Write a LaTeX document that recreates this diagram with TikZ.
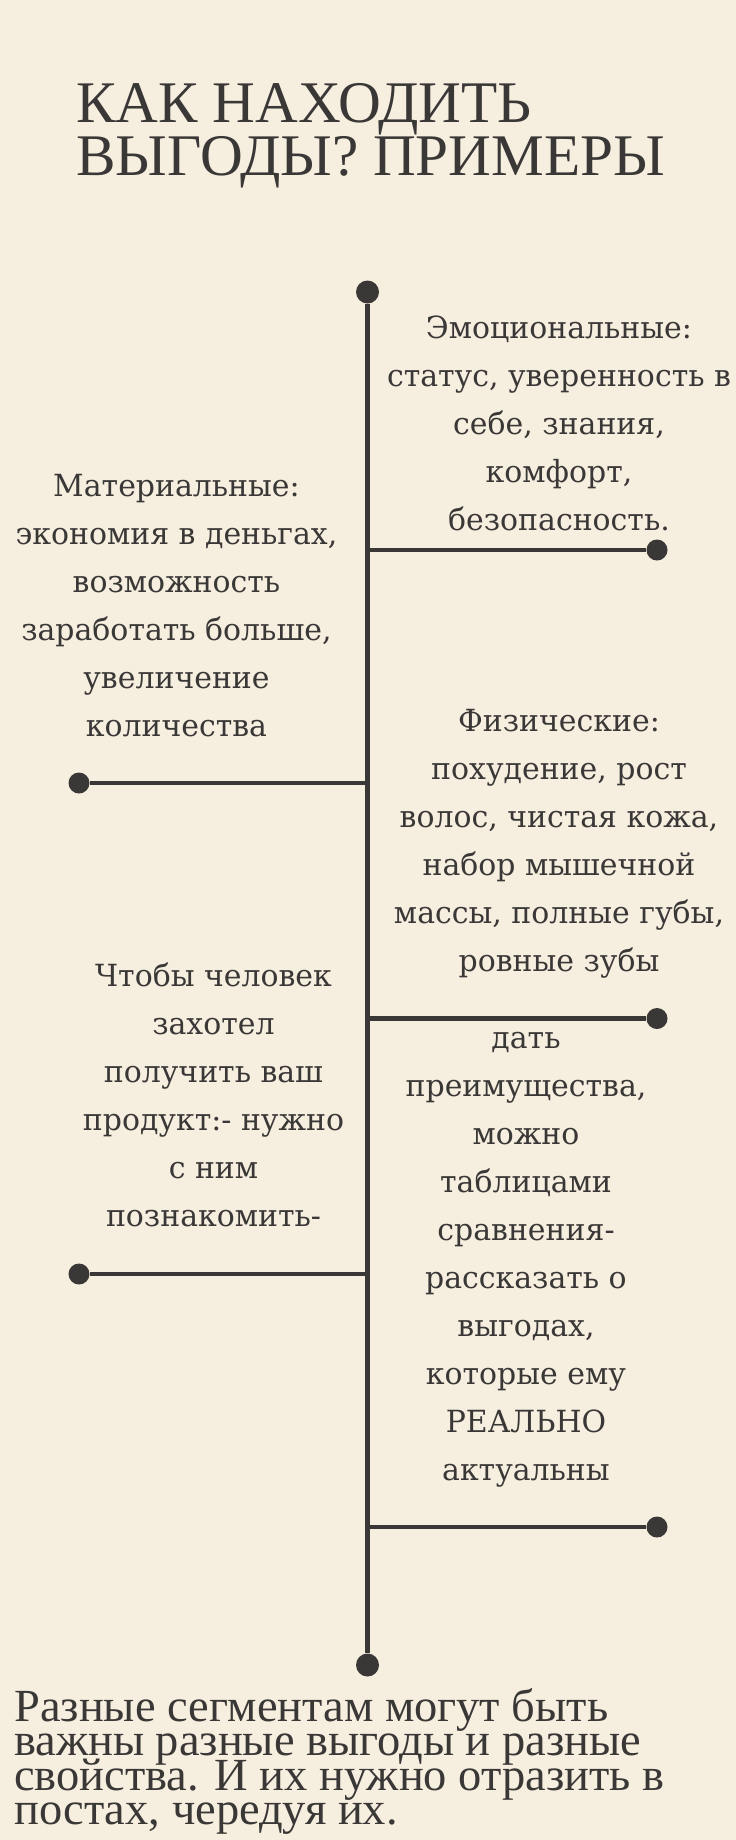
\documentclass[tikz,border=0pt]{standalone}
\usepackage{fontspec}
\setmainfont{DejaVu Serif}
\newfontfamily\bodyraw{DejaVu Serif}
\newfontfamily\titleraw{Liberation Serif}
\definecolor{bg}{HTML}{F6EEDF}
\definecolor{ink}{HTML}{3A3837}
\newlength\measlen
\newcommand\bodyfont{\bodyf\fontsize{30.5}{48}\selectfont\lineskiplimit=-100pt\lineskip=0pt}
\newcommand\headfont{\headf\fontsize{59}{52.3}\selectfont\lineskiplimit=-100pt\lineskip=0pt}
\newcommand\footfont{\footf\fontsize{46}{34.5}\selectfont\lineskiplimit=-100pt\lineskip=0pt}
\AtBeginDocument{%
\settowidth{\measlen}{\bodyraw\fontsize{30.5}{48}\selectfont статус, уверенность в}%
\pgfmathsetmacro{\bst}{344/\measlen}%
\settowidth{\measlen}{\titleraw\fontsize{59}{52}\selectfont ВЫГОДЫ? ПРИМЕРЫ}%
\pgfmathsetmacro{\hst}{589/\measlen}%
\settowidth{\measlen}{\titleraw\fontsize{46}{32}\selectfont Разные сегментам могут быть}%
\pgfmathsetmacro{\fst}{594/\measlen}%
\edef\tmpdef{\noexpand\newfontfamily\noexpand\bodyf[FakeStretch=\bst]{DejaVu Serif}}\tmpdef
\edef\tmpdef{\noexpand\newfontfamily\noexpand\headf[FakeStretch=\hst]{Liberation Serif}}\tmpdef
\edef\tmpdef{\noexpand\newfontfamily\noexpand\footf[FakeStretch=\fst]{Liberation Serif}}\tmpdef
}
\begin{document}
\begin{tikzpicture}[x=1pt,y=-1pt,
  dot/.style={circle,fill=ink,draw=none,inner sep=0pt,minimum size=21pt},
  bigdot/.style={dot,minimum size=23pt},
  stem/.style={draw=ink,line width=4.2pt},
  blocktext/.style={inner sep=0pt,text=ink,align=center,anchor=north,font=\bodyfont},
  headtext/.style={inner sep=0pt,text=ink,align=left,anchor=north west,font=\headfont},
  foottext/.style={inner sep=0pt,text=ink,align=left,anchor=north west,font=\footfont}]
\fill[bg] (0,0) rectangle (736,1840);
\useasboundingbox (0,0) rectangle (736,1840);

% title
\node[headtext] (title) at (76,72.7) {\rule{0pt}{50pt}КАК НАХОДИТЬ\\ВЫГОДЫ? ПРИМЕРЫ};

% timeline
\node[bigdot] (top) at (367.5,292) {};
\node[bigdot] (bot) at (367.5,1665) {};
\coordinate (j1) at (367.5,550);
\coordinate (j2) at (367.5,783);
\coordinate (j3) at (367.5,1018.5);
\coordinate (j4) at (367.5,1274);
\coordinate (j5) at (367.5,1527);
\node[dot] (d1) at (657,550) {};
\node[dot] (d2) at (79,783) {};
\node[dot] (d3) at (657,1018.5) {};
\node[dot] (d4) at (79,1274) {};
\node[dot] (d5) at (657,1527) {};
\draw[stem] (top) -- (bot);
\draw[stem] (j1) -- (d1);
\draw[stem] (j2) -- (d2);
\draw[stem] (j3) -- (d3);
\draw[stem] (j4) -- (d4);
\draw[stem] (j5) -- (d5);

% text blocks
\node[blocktext] (emo) at (559,308.3) {\rule{0pt}{30pt}Эмоциональные:\\статус, уверенность в\\себе, знания,\\комфорт,\\безопасность.};
\node[blocktext] (mat) at (176.5,466.7) {\rule{0pt}{30pt}Материальные:\\экономия в деньгах,\\возможность\\заработать больше,\\увеличение\\количества};
\node[blocktext] (phys) at (559,701.5) {\rule{0pt}{30pt}Физические:\\похудение, рост\\волос, чистая кожа,\\набор мышечной\\массы, полные губы,\\ровные зубы};
\node[blocktext] (want) at (213.5,956.7) {\rule{0pt}{30pt}Чтобы человек\\захотел\\получить ваш\\продукт:- нужно\\с ним\\познакомить-};
\node[blocktext] (give) at (526,1018) {\rule{0pt}{30pt}дать\\преимущества,\\можно\\таблицами\\сравнения-\\рассказать о\\выгодах,\\которые ему\\РЕАЛЬНО\\актуальны};

% bottom text
\node[foottext] (foot) at (14,1681) {\rule{0pt}{40pt}Разные сегментам могут быть\\важны разные выгоды и разные\\свойства. И их нужно отразить в\\постах, чередуя их.};
\end{tikzpicture}
\end{document}
